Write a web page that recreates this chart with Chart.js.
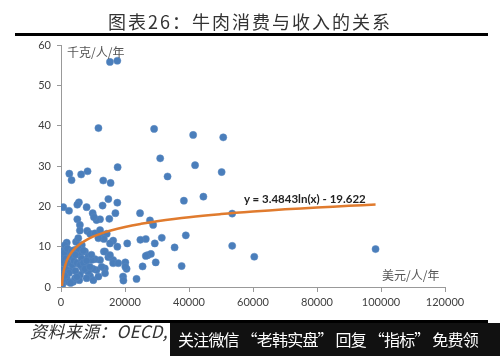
<!DOCTYPE html>
<html>
<head>
<meta charset="utf-8">
<script src="https://cdn.jsdelivr.net/npm/chart.js@4/dist/chart.umd.min.js"></script>
<style>
  html, body { margin:0; padding:0; background:#fff; }
  #wrap { position:relative; width:500px; height:356px; overflow:hidden; background:#fff; }
  #c { position:absolute; left:0; top:0; }
  .ov { position:absolute; white-space:nowrap; }
</style>
</head>
<body>
<div id="wrap">
  <canvas id="c" width="500" height="356"></canvas>
  <div class="ov" style="left:0;width:500px;top:11px;text-align:center;font:18px 'Noto Sans CJK SC';line-height:20px;letter-spacing:2px;color:#333;">图表26：牛肉消费与收入的关系</div>
  <div class="ov" style="left:15px;top:33px;width:473px;height:3px;background:#000;"></div>
  <div class="ov" style="left:67px;top:45px;font:12px 'Noto Sans CJK SC';line-height:14px;color:#555;">千克/人/年</div>
  <div class="ov" style="left:382px;top:268px;font:12px 'Noto Sans CJK SC';line-height:14px;color:#555;">美元/人/年</div>
  <div class="ov" style="left:244px;top:192px;font:bold 11.5px 'Lato';line-height:14px;color:#222;">y = 3.4843ln(x) - 19.622</div>
  <div class="ov" style="left:15px;top:320px;width:473px;height:3px;background:#000;"></div>
  <div class="ov" style="left:30px;top:321px;font:italic 17px 'Noto Sans CJK SC';line-height:20px;letter-spacing:0.3px;color:#333;">资料来源：OECD,</div>
  <div class="ov" style="left:170px;top:323px;width:330px;height:33px;background:#111;color:#fff;font:16px 'Noto Sans CJK SC';line-height:33px;letter-spacing:-0.8px;padding-left:8px;box-sizing:border-box;overflow:hidden;">关注微信 “老韩实盘” 回复 “指标” 免费领</div>
</div>
<script>
// income (USD per person per year)
const incomes = [
  15300,17600,11700,29100,41300,50700,2600,3300,6300,8300,13200,15500,17700,31000,33300,41900,50200,
  700,2500,5600,5100,8000,9900,13000,14800,17600,17000,24700,44500,38400,53500,27800,28800,15100,12200,11100,10300,5100,5900,5900,8200,9100,10600,12700,14300,12200,
  53500,39000,31500,29300,26500,24800,20700,35500,13400,11700,16300,15300,17600,6500,4700,1800,1250,60400,98300,5400,
  37700,29600,27100,28100,26500,25500,23600,20100,20500,20100,19400,19500,13400,14800,16300,12200,10600,13700,11100,9100,5700,3800,8000,7000,
  2800,4400,5900,7500,8500,9600,13750,15300,16300,17900,12700,10000,8500,6500,4400,3300,5900,8000,10100,11700,13750,1800,
  200,1250,700,1000,200,400,2300,4400,300,500,800,1000,1500,1500,2000,2000,2500,3000,3000,3500,3500,4000,4500,4500,5000,5000,5500,6000,6500,7000,7000,7500,8000,9000,9500,600,1200
];
// beef consumption (kg per person per year)
const beefs = [
  55.8,56.1,39.4,39.2,37.7,37.1,28.1,26.5,27.9,28.7,26.4,25.8,29.7,31.9,27.4,30.2,28.5,
  19.8,18.9,21.0,20.4,19.8,18.3,20.2,21.8,20.9,18.3,18.3,22.4,21.4,18.2,16.5,15.4,16.9,16.8,16.6,17.3,16.8,15.4,14.0,13.9,13.2,13.3,12.9,13.2,14.1,
  10.2,12.8,12.2,10.8,11.9,11.7,10.8,9.8,11.9,12.1,11.5,10.8,10.0,10.4,11.2,11.0,9.2,7.5,9.4,12.1,
  5.2,6.1,7.9,8.2,7.7,5.1,2.0,6.1,4.5,5.0,2.6,1.6,8.8,7.4,6.7,6.7,6.9,4.6,4.2,2.7,1.7,1.3,5.0,4.2,
  8.4,9.2,7.9,8.8,7.5,6.7,8.8,7.9,5.9,5.9,5.0,4.5,3.8,5.0,5.9,4.2,3.0,2.2,1.7,2.6,3.4,2.2,
  8.8,10.4,7.5,5.9,4.2,0.5,1.3,2.2,0.8,3.0,6.5,8.5,7.0,4.5,9.5,6.0,3.5,7.5,1.0,9.0,5.5,6.5,8.0,4.0,6.0,2.5,9.5,5.5,7.0,6.0,9.0,4.5,6.5,5.0,8.0,1.8,2.8
];
// logarithmic trendline y = a*ln(x) + b as labelled on the chart
const trendCoef = [3.4843, -19.622];
const trendXs = [300,400,500,700,1000,1400,2000,3000,4000,5000,6500,8000,10000,12500,15000,20000,25000,30000,40000,50000,60000,70000,80000,90000,98300];
const xTicks = [0,20000,40000,60000,80000,100000,120000];
const yTicks = [0,10,20,30,40,50,60];

const pts = incomes.map((x,i)=>({x:x, y:beefs[i]}));
const trend = trendXs.map(x=>({x:x, y:trendCoef[0]*Math.log(x)+trendCoef[1]}));

const tickFont = {family:'Lato', size:11};
new Chart(document.getElementById('c'), {
  type:'scatter',
  data:{ datasets:[
    {data:trend, showLine:true, borderColor:'#E07B2E', borderWidth:2.5, pointRadius:0, tension:0.4, order:0},
    {data:pts, backgroundColor:'#4A7EBB', borderColor:'#5A88C0', borderWidth:0.5, pointRadius:3.6, order:1}
  ]},
  options:{
    responsive:false, animation:false, devicePixelRatio:1,
    layout:{padding:{left:31, top:45, right:55, bottom:44}},
    plugins:{legend:{display:false}, tooltip:{enabled:false}},
    scales:{
      x:{type:'linear', min:xTicks[0], max:xTicks[xTicks.length-1],
        afterBuildTicks:s=>{s.ticks = xTicks.map(v=>({value:v}));},
        afterFit:s=>{s.height=25;},
        ticks:{font:tickFont, color:'#404040', padding:4, maxRotation:0, autoSkip:false, callback:v=>String(v)},
        grid:{drawOnChartArea:false, drawTicks:true, tickLength:5, color:'#999'},
        border:{color:'#999', width:1}},
      y:{type:'linear', min:yTicks[0], max:yTicks[yTicks.length-1],
        afterBuildTicks:s=>{s.ticks = yTicks.map(v=>({value:v}));},
        afterFit:s=>{s.width=30;},
        ticks:{font:tickFont, color:'#404040', padding:6, callback:v=>String(v)},
        grid:{drawOnChartArea:false, drawTicks:true, tickLength:4, color:'#999'},
        border:{color:'#999', width:1}}
    }
  }
});
</script>
</body>
</html>
